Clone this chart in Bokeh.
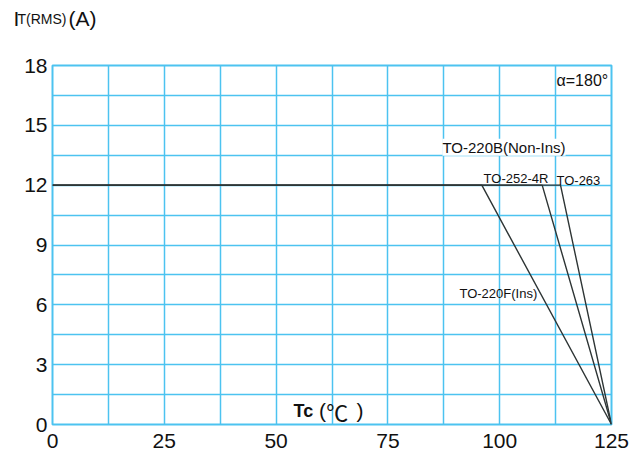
from bokeh.plotting import figure
from bokeh.layouts import column
from bokeh.models import Range1d, FixedTicker, Label, ColumnDataSource
from bokeh.core.properties import value
from bokeh.embed import file_html
from bokeh.resources import INLINE

# ---- data ----
packages = ["TO-220F(Ins)", "TO-252-4R", "TO-263"]
knee_tc = [96.0, 109.5, 113.6]      # Tc where derating starts
max_current = 12.0                    # IT(RMS) plateau
tc_max = 125.0                        # Tc where current reaches 0
x_ticks = [0, 25, 50, 75, 100, 125]
y_ticks = [0, 3, 6, 9, 12, 15, 18]
x_grid = [0, 12.5, 25, 37.5, 50, 62.5, 75, 87.5, 100, 112.5, 125]
y_grid = [0, 1.5, 3, 4.5, 6, 7.5, 9, 10.5, 12, 13.5, 15, 16.5, 18]

BLUE = "#4cc3f0"
FONT = "Liberation Sans"
W = 633
HEAD = 50
TOP = 65 - HEAD

# ---- header strip holding the y-axis title ----
h = figure(width=W, height=HEAD, output_backend="svg", toolbar_location=None,
           x_range=Range1d(0, W), y_range=Range1d(0, HEAD),
           min_border=0, x_axis_type=None, y_axis_type=None)
h.outline_line_color = None
h.grid.visible = False
h.frame_align = False
title_parts = ["I", "T(RMS)", "(A)"]
title_x = [13, 17, 68]
title_sizes = ["21px", "14px", "21px"]
for t, tx, ts in zip(title_parts, title_x, title_sizes):
    h.text(x=[tx], y=[HEAD - 18], text=[t], text_font=value(FONT), text_font_size=ts,
           text_color="#111111", text_baseline="alphabetic", text_align="left")

# ---- main chart ----
p = figure(width=W, height=452 - HEAD, output_backend="svg", toolbar_location=None,
           x_range=Range1d(0, 125), y_range=Range1d(0, 18),
           min_border_left=52, min_border_right=22, min_border_top=TOP, min_border_bottom=28)
p.frame_align = False

p.outline_line_color = BLUE
p.outline_line_width = 2
p.background_fill_color = "white"
p.border_fill_color = "white"

for g, t in ((p.xgrid, x_grid), (p.ygrid, y_grid)):
    g.ticker = FixedTicker(ticks=t)
    g.grid_line_color = BLUE
    g.grid_line_width = 1.5

for ax, t, so in ((p.xaxis, x_ticks, 9), (p.yaxis, y_ticks, 5)):
    ax.ticker = FixedTicker(ticks=t)
    ax.axis_line_color = None
    ax.major_tick_line_color = None
    ax.minor_tick_line_color = None
    ax.major_tick_out = 0
    ax.major_tick_in = 0
    ax.major_label_text_font = FONT
    ax.major_label_text_font_size = "21px"
    ax.major_label_text_color = "#111111"
    ax.major_label_standoff = so

for k in knee_tc:
    src = ColumnDataSource(dict(x=[0, k, tc_max], y=[max_current, max_current, 0]))
    p.line("x", "y", source=src, line_color="#2e3535", line_width=1.4)

def lab(x, y, text, size, **kw):
    font = kw.pop("font", FONT)
    p.add_layout(Label(x=x, y=y, text=text, text_font=font, text_font_size=size,
                       text_color="#111111", text_baseline=kw.pop("baseline", "middle"), **kw))

lab(87.2, 13.9, "TO-220B(Non-Ins)", "15px", background_fill_color="white")
lab(96.4, 12.32, "TO-252-4R", "13px")
lab(112.7, 12.25, "TO-263", "13px")
lab(91.0, 6.55, "TO-220F(Ins)", "13px")
lab(112.7, 17.25, "α=180°", "16px")

# x axis title inside plot
lab(53.9, 0.7, "Tc", "18px", text_font_style="bold")
lab(59.6, 0.7, "(", "21px")
lab(61.2, 0.7, "℃", "22px", font="Noto Sans CJK SC")
lab(68.0, 0.7, ")", "21px")

open("out.html", "w").write(file_html(column(h, p, spacing=0), INLINE))
